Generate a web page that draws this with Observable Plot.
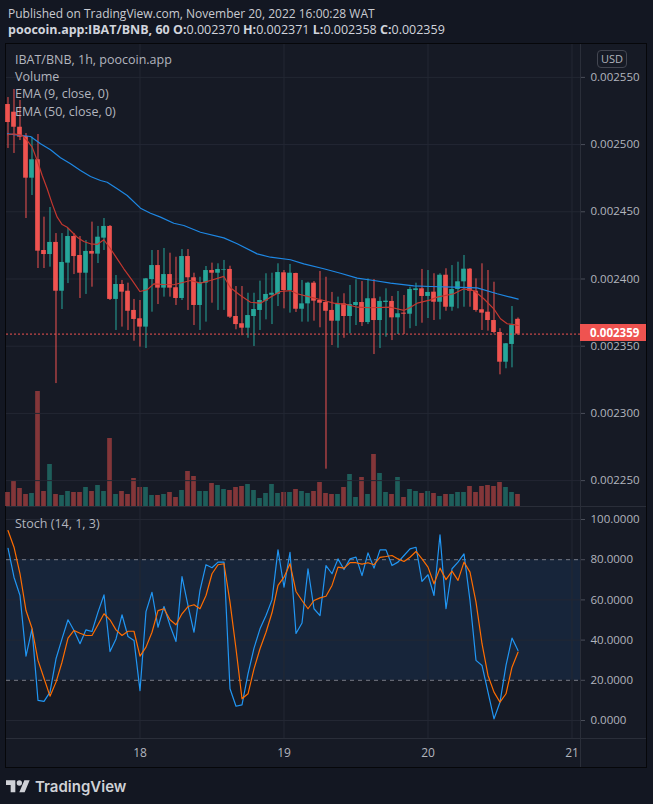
<!DOCTYPE html>
<html><head><meta charset="utf-8">
<script src="https://cdn.jsdelivr.net/npm/d3@7"></script>
<script src="https://cdn.jsdelivr.net/npm/@observablehq/plot@0.6"></script>
<style>
html,body{margin:0;padding:0;background:#131722;}
#root{position:relative;width:653px;height:804px;background:#131722;overflow:hidden;font-family:"Open Sans",sans-serif;}
#hdr1{position:absolute;left:8px;top:5px;font-size:12px;color:#c9cbd1;white-space:nowrap;}
#hdr2{position:absolute;left:8px;top:21px;font-size:12.5px;color:#d1d4dc;white-space:nowrap;}
#hdr2 b{font-weight:700;}
#frame{position:absolute;left:5px;top:43px;width:642px;height:725px;box-sizing:border-box;border:1px solid #06070a;background:#161a25;}
.layer{position:absolute;left:0;top:0;}
#legend{position:absolute;left:9px;top:7px;font-size:12.5px;line-height:17.2px;color:#b2b5be;white-space:nowrap;}
#usd{position:absolute;left:591px;top:6px;width:30px;height:18px;box-sizing:border-box;border:1px solid #434651;border-radius:4px;font-size:11px;line-height:16px;text-align:center;color:#b2b5be;}
#plabel{position:absolute;left:574px;width:66px;height:17px;background:#ef5350;color:#fff;font-size:11.5px;font-weight:700;line-height:17px;padding-left:10px;box-sizing:border-box;}
#stochLegend{position:absolute;left:9px;top:471px;font-size:12.5px;color:#b2b5be;white-space:nowrap;}
.sep{position:absolute;background:#2a2e39;}
#logo{position:absolute;left:6px;top:776px;height:20px;display:flex;align-items:center;color:#cfd1d6;font-family:Inter,sans-serif;font-weight:600;font-size:15px;}
#logo svg{margin-right:5px;}
</style></head>
<body>
<div id="root">
  <div id="hdr1">Published on TradingView.com, November 20, 2022 16:00:28 WAT</div>
  <div id="hdr2"><b>poocoin.app:IBAT/BNB, 60</b> <b>O:</b>0.002370 <b>H:</b>0.002371 <b>L:</b>0.002358 <b>C:</b>0.002359</div>
  <div id="frame">
    <div id="vol" class="layer"></div>
    <div id="main" class="layer"></div>
    <div id="stoch" class="layer" style="top:463px"></div>
    <div class="sep" style="left:0;top:462px;width:640px;height:1px;"></div>
    <div class="sep" style="left:574px;top:0;width:1px;height:723px;"></div>
    <div class="sep" style="left:0;top:694px;width:640px;height:1px;"></div>
    <div id="legend">IBAT/BNB, 1h, poocoin.app<br>Volume<br>EMA (9, close, 0)<br>EMA (50, close, 0)</div>
    <div id="usd">USD</div>
    <div id="plabel"></div>
    <div id="stochLegend">Stoch (14, 1, 3)</div>
  </div>
  <div id="logo"><svg width="24" height="14" viewBox="0 2 36 21"><path d="M14 22H7V11H0V4h14v18zM28 22h-8l7.5-18h8L28 22z" fill="#cfd1d6"/><circle cx="20" cy="8" r="4" fill="#cfd1d6"/></svg>TradingView</div>
</div>
<script>
// Hourly candles, first one at Nov 17 02:00 (hour -22 relative to Nov 18 00:00)
const firstHour = -22;
const open = [0.0025298,0.0025241,0.0025129,0.0025060,0.0024750,0.0024887,0.0024212,0.0024182,0.0024272,0.0023909,0.0024118,0.0024316,0.0024175,0.0024043,0.0024205,0.0024185,0.0024304,0.0024391,0.0023848,0.0023959,0.0023909,0.0023766,
 0.0023704,0.0023642,0.0023996,0.0024100,0.0023932,0.0024033,0.0023935,0.0023855,0.0024167,0.0024009,0.0023803,0.0023969,0.0024063,0.0024043,0.0024063,0.0024071,0.0023721,0.0023667,0.0023634,0.0023721,0.0023766,0.0023835,0.0023879,
 0.0023885,0.0024046,0.0023914,0.0024041,0.0023775,0.0023815,0.0023969,0.0023840,0.0023825,0.0023766,0.0023686,0.0023815,0.0023721,0.0023803,0.0023825,0.0023676,0.0023853,0.0023691,0.0023825,0.0023833,0.0023711,0.0023746,0.0023738,0.0023914,0.0023927,0.0023870,0.0023902,0.0023827,0.0024028,0.0023790,0.0023922,0.0023979,0.0024073,0.0023909,0.0023771,0.0023753,0.0023691,0.0023602,0.0023381,0.0023513,0.0023700];
const high = [0.0025350,0.0025410,0.0025328,0.0025082,0.0025055,0.0025075,0.0024460,0.0024532,0.0024338,0.0024338,0.0024376,0.0024338,0.0024316,0.0024286,0.0024423,0.0024391,0.0024450,0.0024398,0.0024026,0.0023989,0.0023969,0.0023848,
 0.0023840,0.0024004,0.0024212,0.0024212,0.0024227,0.0024192,0.0024162,0.0024219,0.0024219,0.0024043,0.0024013,0.0024093,0.0024118,0.0024113,0.0024138,0.0024095,0.0023944,0.0023944,0.0023894,0.0023894,0.0023984,0.0024039,0.0024043,
 0.0024113,0.0024063,0.0024108,0.0024043,0.0023989,0.0023976,0.0023981,0.0024056,0.0024013,0.0023900,0.0023865,0.0023890,0.0023952,0.0023994,0.0023981,0.0024001,0.0023996,0.0023865,0.0023927,0.0023870,0.0023907,0.0023877,0.0023939,0.0023969,0.0024071,0.0024063,0.0024039,0.0024039,0.0024076,0.0024100,0.0024125,0.0024175,0.0024078,0.0024001,0.0024113,0.0024063,0.0023976,0.0023630,0.0023520,0.0023795,0.0023710];
const low = [0.0024971,0.0024934,0.0025030,0.0024450,0.0024621,0.0024078,0.0024078,0.0024088,0.0023222,0.0023773,0.0023966,0.0024033,0.0023855,0.0023885,0.0023939,0.0024115,0.0024212,0.0023840,0.0023617,0.0023642,0.0023617,0.0023537,
 0.0023493,0.0023483,0.0023753,0.0023810,0.0023865,0.0023865,0.0023803,0.0023840,0.0023766,0.0023654,0.0023617,0.0023679,0.0023820,0.0023766,0.0023766,0.0023706,0.0023622,0.0023578,0.0023559,0.0023498,0.0023617,0.0023696,0.0023661,
 0.0023795,0.0023778,0.0023746,0.0023751,0.0023679,0.0023679,0.0023686,0.0023637,0.0022585,0.0023505,0.0023485,0.0023559,0.0023592,0.0023654,0.0023647,0.0023661,0.0023438,0.0023483,0.0023567,0.0023542,0.0023587,0.0023587,0.0023630,0.0023647,0.0023671,0.0023706,0.0023691,0.0023696,0.0023760,0.0023760,0.0023778,0.0023790,0.0023790,0.0023753,0.0023617,0.0023612,0.0023592,0.0023287,0.0023332,0.0023339,0.0023580];
const close = [0.0025164,0.0025129,0.0025055,0.0024750,0.0024887,0.0024207,0.0024182,0.0024272,0.0023909,0.0024123,0.0024316,0.0024167,0.0024043,0.0024205,0.0024185,0.0024311,0.0024391,0.0023848,0.0023959,0.0023902,0.0023760,0.0023699,
 0.0023642,0.0024001,0.0024100,0.0023932,0.0024033,0.0023932,0.0023855,0.0024167,0.0024009,0.0023803,0.0023974,0.0024063,0.0024043,0.0024071,0.0024068,0.0023716,0.0023661,0.0023634,0.0023728,0.0023773,0.0023840,0.0023885,0.0023894,
 0.0024048,0.0023914,0.0024043,0.0023775,0.0023815,0.0023969,0.0023835,0.0023820,0.0023760,0.0023686,0.0023815,0.0023721,0.0023810,0.0023825,0.0023676,0.0023853,0.0023691,0.0023833,0.0023835,0.0023711,0.0023741,0.0023738,0.0023922,0.0023927,0.0023870,0.0023900,0.0023827,0.0024028,0.0023790,0.0023922,0.0023979,0.0024073,0.0023909,0.0023766,0.0023746,0.0023691,0.0023602,0.0023381,0.0023518,0.0023654,0.0023590];
const volume = [14,25,18,12,13,115,15,42,12,11,15,14,14,19,15,21,15,68,12,15,12,28,
 19,19,11,11,12,14,9,16,35,30,15,15,23,21,17,16,19,20,22,16,8,13,22,
 13,14,14,17,15,13,15,24,13,12,12,19,32,9,29,12,52,33,14,12,29,9,17,15,13,15,13,10,12,12,14,14,20,14,20,21,20,24,19,14,12];
const emaFastHour = [-22.08,-21.03,-19.63,-18.8,-17.97,-17.13,-16.3,-15.47,-14.63,-13.8,-12.97,-12.13,-11.3,-10.47,-9.37,-8.25,-7.13,-6.03,-4.92,-3.8,-2.7,-1.3,-0.03,1.2,2.3,3.97,5.63,7.3,8.42,10.08,11.75,13.97,15.08,16.75,18.42,20.08,21.75,23.42,25.08,26.2,28.42,30.63,32.3,34.53,36.2,38.42,41.75,43.97,45.08,46.2,48.42,49.53,52.3,53.97,55.63,57.3,58.97,60.08,61.2,62.3,63.03];
const emaFast = [0.0025073,0.0025080,0.0025068,0.0025030,0.0024981,0.0024882,0.0024770,0.0024671,0.0024559,0.0024460,0.0024405,0.0024385,0.0024348,0.0024311,0.0024279,0.0024262,0.0024257,0.0024292,0.0024225,0.0024150,0.0024076,0.0023989,0.0023907,0.0023920,0.0023964,0.0023959,0.0023957,0.0023976,0.0023989,0.0023969,0.0023989,0.0024019,0.0023935,0.0023877,0.0023827,0.0023820,0.0023865,0.0023907,0.0023914,0.0023890,0.0023865,0.0023840,0.0023820,0.0023810,0.0023790,0.0023786,0.0023790,0.0023766,0.0023790,0.0023820,0.0023845,0.0023865,0.0023890,0.0023927,0.0023914,0.0023853,0.0023778,0.0023704,0.0023667,0.0023661,0.0023654];
const emaSlowHour = [-22.08,-18.25,-16.58,-14.92,-13.25,-11.58,-9.92,-8.25,-6.58,-5.47,-3.8,-2.13,0.08,1.75,3.42,5.63,7.3,10.08,13.97,16.2,19.53,21.75,25.08,27.3,30.63,33.42,36.2,38.97,41.75,45.63,48.42,52.3,56.2,59.53,61.75,63.03];
const emaSlow = [0.0025080,0.0025060,0.0025006,0.0024961,0.0024902,0.0024857,0.0024807,0.0024763,0.0024733,0.0024720,0.0024671,0.0024621,0.0024527,0.0024489,0.0024460,0.0024415,0.0024398,0.0024348,0.0024306,0.0024262,0.0024187,0.0024162,0.0024143,0.0024113,0.0024076,0.0024043,0.0024006,0.0023989,0.0023969,0.0023949,0.0023944,0.0023939,0.0023934,0.0023890,0.0023865,0.0023850];
const stochK = [85.7,71.3,62.2,32.0,45.6,10.0,9.5,14.1,30.7,40.6,50.1,44.8,38.2,45.1,44.3,53.9,62.5,34.3,40.6,52.6,41.8,39.8,
 14.9,54.2,63.8,46.4,56.7,47.3,39.3,71.6,57.2,43.9,64.7,77.5,76.0,78.8,78.8,15.8,7.1,7.8,23.2,36.0,45.6,52.2,60.0,
 84.9,66.3,83.7,43.3,48.5,75.5,55.6,52.2,77.1,73.0,80.4,75.1,80.4,81.3,72.1,83.4,75.8,84.9,84.9,77.1,78.8,82.1,85.4,86.2,69.2,72.5,62.2,92.4,55.6,75.5,78.8,82.9,59.7,29.9,27.4,14.1,0.8,9.1,27.4,41.0,34.8];
const stochD = [94.5,86.2,73.0,54.7,45.9,29.9,21.0,12.1,19.1,29.0,41.0,44.8,43.4,42.3,42.3,47.6,53.1,50.1,45.1,42.3,44.4,44.4,
 32.0,36.5,43.9,54.7,55.6,50.1,47.6,53.1,56.7,57.6,55.6,62.2,73.0,77.5,78.0,58.9,35.7,10.8,13.3,25.7,35.7,43.9,53.6,
 67.2,71.3,78.0,64.2,59.7,55.6,59.7,61.0,61.8,67.2,76.3,75.8,78.5,78.5,77.8,78.5,77.5,81.2,81.6,82.1,80.4,79.1,81.2,84.1,80.4,76.3,68.0,75.8,70.1,74.3,69.7,78.8,73.8,58.9,38.2,22.4,14.1,9.1,13.3,26.5,34.0];
const priceTicks = [0.00225,0.0023,0.00235,0.0024,0.00245,0.0025,0.00255];
const stochTicks = [0,20,40,60,80,100];
const dayHours = [0,24,48,72];
const dayLabels = ["18","19","20","21"];

const UP = "#26a69a", DOWN = "#ef5350", GRID = "#232733", AXIS = "#b2b5be";
const X_DOMAIN = [-22.25, 73.4167];
const W = 640, MR = 66;

const candles = open.map((o, i) => ({
  h: firstHour + i, open: o, high: high[i], low: low[i], close: close[i], vol: volume[i],
  up: close[i] >= o
}));
const emaF = emaFastHour.map((h, i) => ({h, v: emaFast[i]}));
const emaS = emaSlowHour.map((h, i) => ({h, v: emaSlow[i]}));
const stoch = stochK.map((k, i) => ({h: firstHour + i, k, d: stochD[i]}));
const lastClose = close[close.length - 1];

const baseStyle = {background: "transparent", color: AXIS, fontFamily: "Open Sans, sans-serif", fontSize: "11px", overflow: "visible"};

// Volume layer (behind candles)
const volPlot = Plot.plot({
  width: W, height: 462, marginLeft: 0, marginRight: MR, marginTop: 0, marginBottom: 0,
  style: baseStyle,
  x: {domain: X_DOMAIN, axis: null},
  y: {domain: [0, 462], axis: null},
  marks: [
    Plot.rect(candles, {x1: d => d.h - 0.39, x2: d => d.h + 0.39, y1: 0, y2: "vol",
      fill: d => d.up ? "#1e5e5b" : "#833639"})
  ]
});
document.getElementById("vol").appendChild(volPlot);

const mainPlot = Plot.plot({
  width: W, height: 462, marginLeft: 0, marginRight: MR, marginTop: 0, marginBottom: 0,
  style: baseStyle,
  x: {domain: X_DOMAIN, axis: null},
  y: {domain: [0.00223074, 0.00257446], axis: null},
  marks: [
    Plot.ruleX(dayHours, {stroke: GRID}),
    Plot.ruleY(priceTicks, {stroke: GRID}),
    Plot.axisY(priceTicks, {anchor: "right", tickSize: 4, tickPadding: 6, tickFormat: d => d.toFixed(6), stroke: "#4a4e59", fill: AXIS, fontSize: 11.5}),
    Plot.ruleX(candles, {x: "h", y1: "low", y2: "high", stroke: d => d.up ? UP : DOWN, strokeWidth: 1}),
    Plot.rect(candles, {x1: d => d.h - 0.39, x2: d => d.h + 0.39, y1: "open", y2: "close", fill: d => d.up ? UP : DOWN}),
    Plot.line(emaS, {x: "h", y: "v", stroke: "#1e88e5", strokeWidth: 1.2}),
    Plot.line(emaF, {x: "h", y: "v", stroke: "#c4372f", strokeWidth: 1.2}),
    Plot.ruleY([lastClose], {stroke: DOWN, strokeDasharray: "2,2"})
  ]
});
document.getElementById("main").appendChild(mainPlot);

const yPix = mainPlot.scale("y").apply(lastClose);
const pl = document.getElementById("plabel");
pl.style.top = (yPix - 9.5) + "px";
pl.textContent = lastClose.toFixed(6);

const stochPlot = Plot.plot({
  width: W, height: 260, marginLeft: 0, marginRight: MR, marginTop: 0, marginBottom: 28,
  style: baseStyle,
  x: {domain: X_DOMAIN, label: null},
  y: {domain: [-9.45, 105.97], axis: null},
  marks: [
    Plot.rect([{a: 20, b: 80}], {x1: () => X_DOMAIN[0], x2: () => X_DOMAIN[1], y1: "a", y2: "b", fill: "#17253a"}),
    Plot.ruleX(dayHours, {stroke: GRID}),
    Plot.ruleY([0, 40, 60, 100], {stroke: GRID}),
    Plot.ruleY([20, 80], {stroke: "#787b86", strokeDasharray: "4,4"}),
    Plot.axisY(stochTicks, {anchor: "right", tickSize: 4, tickPadding: 6, tickFormat: d => d.toFixed(4), stroke: "#4a4e59", fill: AXIS, fontSize: 11.5}),
    Plot.axisX(dayHours, {anchor: "bottom", label: null, tickSize: 0, tickPadding: 9, tickFormat: (d, i) => dayLabels[i], fill: AXIS, fontSize: 12}),
    Plot.line(stoch, {x: "h", y: "k", stroke: "#2196f3", strokeWidth: 1.2}),
    Plot.line(stoch, {x: "h", y: "d", stroke: "#ff6d00", strokeWidth: 1.2})
  ]
});
document.getElementById("stoch").appendChild(stochPlot);
</script>
</body></html>
